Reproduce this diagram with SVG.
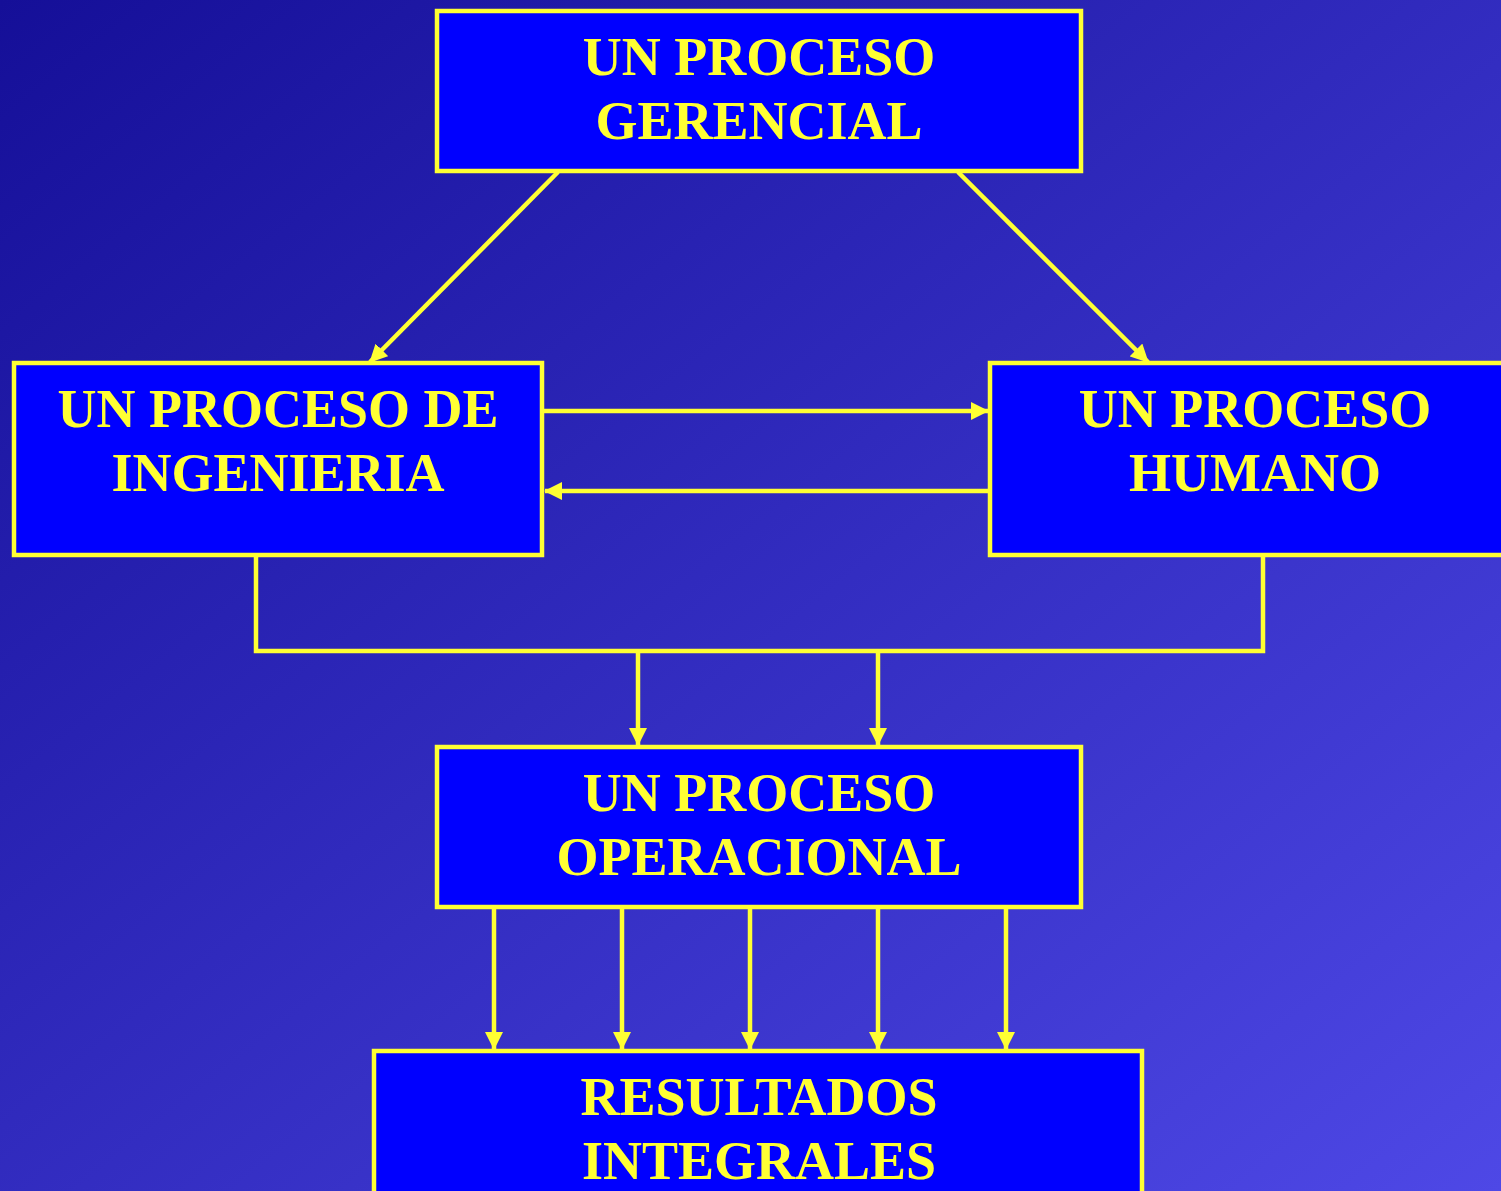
<svg xmlns="http://www.w3.org/2000/svg" width="1501" height="1191" viewBox="0 0 1501 1191">
<defs>
<linearGradient id="bg" x1="0" y1="0" x2="1" y2="1">
<stop offset="0" stop-color="#150f98"/>
<stop offset="1" stop-color="#4e48e6"/>
</linearGradient>
<marker id="ah" viewBox="0 0 18 18" refX="17" refY="9" markerWidth="18" markerHeight="18" markerUnits="userSpaceOnUse" orient="auto">
<path d="M0,0 L18,9 L0,18 Z" fill="#ffff33"/>
</marker>
<style>
.box{fill:#0000ff;stroke:#ffff33;stroke-width:4.5}
.t{font-family:"Liberation Serif","Times New Roman",serif;font-weight:bold;font-size:54px;fill:#ffff33;text-anchor:middle}
.c{stroke:#ffff33;stroke-width:4.5;fill:none}
.a{marker-end:url(#ah)}
</style>
</defs>
<rect width="1501" height="1191" fill="url(#bg)"/>
<g id="connectors">
<line class="c a" x1="558" y1="172" x2="370" y2="362"/>
<line class="c a" x1="958" y1="172" x2="1148" y2="362"/>
<line class="c a" x1="544" y1="411" x2="988" y2="411"/>
<line class="c a" x1="988" y1="491" x2="545" y2="491"/>
<polyline class="c" points="256,557 256,651 1263,651 1263,557"/>
<line class="c a" x1="638" y1="651" x2="638" y2="745"/>
<line class="c a" x1="878" y1="651" x2="878" y2="745"/>
<line class="c a" x1="494" y1="909" x2="494" y2="1049"/>
<line class="c a" x1="622" y1="909" x2="622" y2="1049"/>
<line class="c a" x1="750" y1="909" x2="750" y2="1049"/>
<line class="c a" x1="878" y1="909" x2="878" y2="1049"/>
<line class="c a" x1="1006" y1="909" x2="1006" y2="1049"/>
</g>
<g id="gerencial">
<rect class="box" x="437" y="11" width="644" height="160"/>
<text class="t" x="759" y="75">UN PROCESO</text>
<text class="t" x="759" y="139">GERENCIAL</text>
</g>
<g id="ingenieria">
<rect class="box" x="14" y="363" width="528" height="192"/>
<text class="t" x="278" y="427">UN PROCESO DE</text>
<text class="t" x="278" y="491">INGENIERIA</text>
</g>
<g id="humano">
<rect class="box" x="990" y="363" width="520" height="192"/>
<text class="t" x="1255" y="427">UN PROCESO</text>
<text class="t" x="1255" y="491">HUMANO</text>
</g>
<g id="operacional">
<rect class="box" x="437" y="747" width="644" height="160"/>
<text class="t" x="759" y="811">UN PROCESO</text>
<text class="t" x="759" y="875">OPERACIONAL</text>
</g>
<g id="resultados">
<rect class="box" x="374" y="1051" width="768" height="150"/>
<text class="t" x="759" y="1115">RESULTADOS</text>
<text class="t" x="759" y="1179">INTEGRALES</text>
</g>
</svg>
